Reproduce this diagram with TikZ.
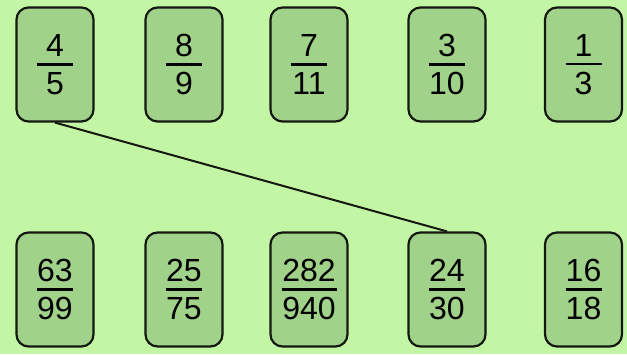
\documentclass[tikz,border=0pt]{standalone}
\usepackage{fontspec}
\setmainfont{Liberation Sans}
\definecolor{bg}{RGB}{194,246,164}
\definecolor{cardfill}{RGB}{160,210,138}
\definecolor{edge}{RGB}{20,24,16}
\newcommand\fr[3][36pt]{\vbox{\hbox to #1{\hss#2\hss}\kern6.5pt\hrule height 2.4pt\kern6.5pt\hbox to #1{\hss#3\hss}}}
\begin{document}
\begin{tikzpicture}[x=1pt,y=1pt,
  card/.style={draw=edge, line width=2.2pt, fill=cardfill, rounded corners=12pt,
    minimum width=77pt, minimum height=114pt, inner sep=0pt,
    font=\fontsize{32}{36}\selectfont},
  link/.style={draw=edge, line width=2pt}]
\fill[bg] (0,0) rectangle (627,354);
\useasboundingbox (0,0) rectangle (627,354);
\node[card] (t1) at (55,289.5) {\fr{4}{5}};
\node[card] (t2) at (184,289.5) {\fr{8}{9}};
\node[card] (t3) at (309,289.5) {\fr{7}{11}};
\node[card] (t4) at (447,289.5) {\fr{3}{10}};
\node[card] (t5) at (583.5,289.5) {\fr{1}{3}};
\node[card] (b1) at (55,64.5) {\fr{63}{99}};
\node[card] (b2) at (184,64.5) {\fr{25}{75}};
\node[card] (b3) at (309,64.5) {\fr[55pt]{282}{940}};
\node[card] (b4) at (447,64.5) {\fr{24}{30}};
\node[card] (b5) at (583.5,64.5) {\fr{16}{18}};
\draw[link] (t1.south) -- (b4.north);
\end{tikzpicture}
\end{document}
